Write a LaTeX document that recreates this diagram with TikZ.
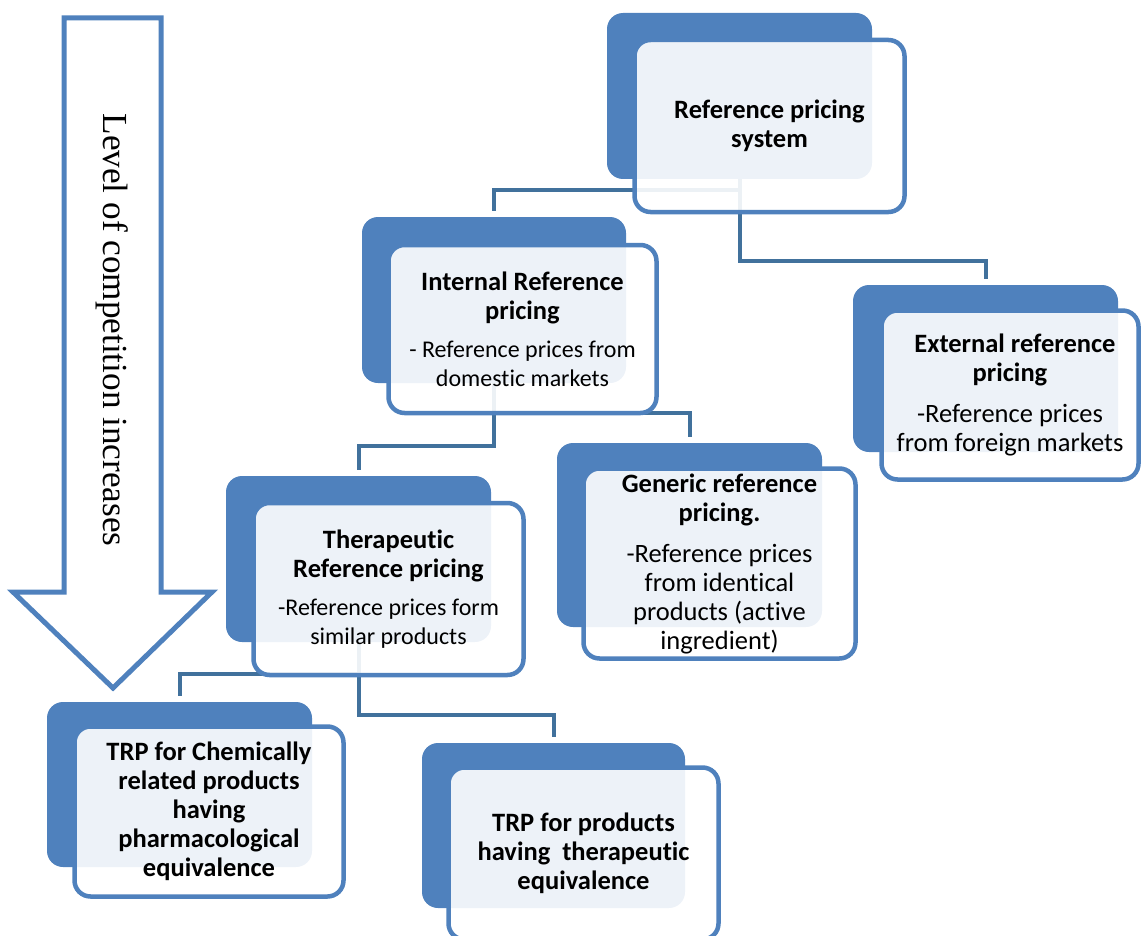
\documentclass[tikz,border=0pt]{standalone}
\usepackage{fontspec}
\setmainfont{Carlito}[Ligatures=NoCommon]
\newfontfamily\arrowfont{Liberation Serif}
\definecolor{acc}{HTML}{4F81BD}
\definecolor{conn}{HTML}{41719C}
\newcommand{\smallbody}{\fontsize{24}{26}\selectfont}
\begin{document}
\begin{tikzpicture}[x=1pt,y=-1pt,
  backbox/.style={rectangle,rounded corners=16pt,fill=acc,inner sep=0pt,outer sep=0pt},
  frontbox/.style={rectangle,rounded corners=16pt,fill=white,fill opacity=0.9,text opacity=1,
     draw=acc,line width=4.5pt,inner sep=0pt,outer sep=0pt,align=center,
     font=\fontsize{26.5}{29}\selectfont},
  conline/.style={draw=conn,line width=4pt,shorten >=6pt},
  arrowline/.style={draw=acc,line width=5pt,fill=white}]
\useasboundingbox (0,0) rectangle (1142,936);
% big arrow
\draw[arrowline] (64,18) -- (161,18) -- (161,592) -- (212,592) -- (113,688) -- (13,592) -- (64,592) -- cycle;
\node[rotate=-90,font=\arrowfont\fontsize{35.2}{40}\selectfont] (arrowtxt) at (112,330) {Level of competition increases};
% back boxes
\node[backbox,minimum width=265pt,minimum height=166pt] (topB) at (739.5,96) {};
\node[backbox,minimum width=264pt,minimum height=166pt] (intB) at (494,300) {};
\node[backbox,minimum width=265pt,minimum height=167pt] (extB) at (985.5,368.5) {};
\node[backbox,minimum width=265pt,minimum height=166pt] (therB) at (358.5,559) {};
\node[backbox,minimum width=265pt,minimum height=184pt] (genB) at (689.5,535) {};
\node[backbox,minimum width=265pt,minimum height=165pt] (chemB) at (179.5,784.5) {};
\node[backbox,minimum width=263pt,minimum height=165pt] (prodB) at (553.5,825.5) {};
% connectors
\draw[conline] (topB.south) -- ++(0,11) -| (intB.north);
\draw[conline] (topB.south) -- ++(0,82) -| (extB.north);
\draw[conline] (intB.south) -- ++(0,63) -| (therB.north);
\draw[conline] (intB.south) -- ++(0,30) -| (genB.north);
\draw[conline] (therB.south) -- ++(0,32) -| (chemB.north);
\draw[conline] (therB.south) -- ++(0,73) -| (prodB.north);
% front boxes
\node[frontbox,minimum width=270pt,minimum height=172pt] (topF) at (769.5,126)
  {\textbf{Reference pricing}\\\textbf{system}};
\node[frontbox,minimum width=268pt,minimum height=168pt] (intF) at (522.5,329)
  {\textbf{Internal Reference}\\\textbf{pricing}\\[9pt]
   \smallbody - Reference prices from\\\smallbody domestic markets};
\node[frontbox,minimum width=257pt,minimum height=169pt] (extF) at (1010,395)
  {\hspace*{10pt}\textbf{External reference}\\\textbf{pricing}\\[12pt]
   -Reference prices\\from foreign markets};
\node[frontbox,minimum width=270pt,minimum height=172pt] (therF) at (388.5,589)
  {\textbf{Therapeutic}\\\textbf{Reference pricing}\\[9pt]
   \smallbody -Reference prices form\\\smallbody similar products};
\node[frontbox,minimum width=272pt,minimum height=190pt] (genF) at (719.5,563.5)
  {\textbf{Generic reference}\\\textbf{pricing.}\\[12pt]
   -Reference prices\\from identical\\products (active\\ingredient)};
\node[frontbox,minimum width=269pt,minimum height=170pt] (chemF) at (209,811.5)
  {\textbf{TRP for Chemically}\\\textbf{related products}\\\textbf{having}\\\textbf{pharmacological}\\\textbf{equivalence}};
\node[frontbox,minimum width=270pt,minimum height=172pt] (prodF) at (583.5,853.5)
  {\textbf{TRP for products}\\\textbf{having\ \ therapeutic}\\\textbf{equivalence}};
\end{tikzpicture}
\end{document}
